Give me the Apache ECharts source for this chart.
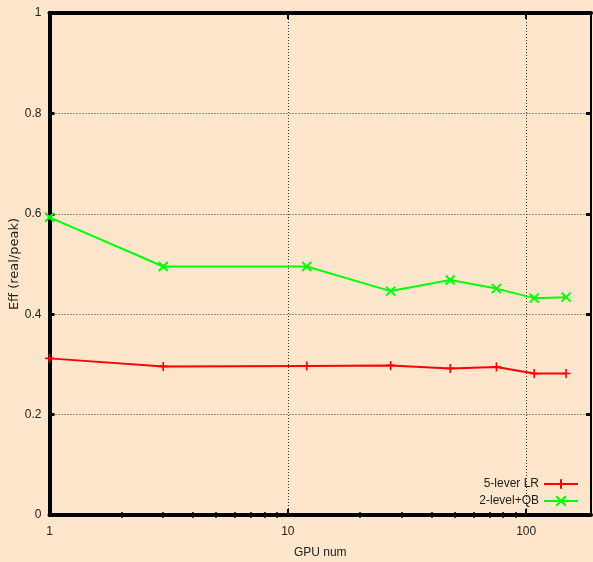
<!DOCTYPE html>
<html>
<head>
<meta charset="utf-8">
<script src="https://cdn.jsdelivr.net/npm/echarts@6/dist/echarts.min.js"></script>
<style>
  html, body { margin: 0; padding: 0; background: #fee6cd; }
  #chart { width: 593px; height: 562px; }
</style>
</head>
<body>
<div id="chart"></div>
<script>
// GPU counts (log-scaled x axis)
const gpuNum = [1, 3, 12, 27, 48, 75, 108, 147];
// Efficiency (real / peak) for each scheme
const effLR = [0.312, 0.296, 0.297, 0.298, 0.292, 0.295, 0.282, 0.282];
const effQB = [0.593, 0.495, 0.495, 0.446, 0.468, 0.451, 0.432, 0.434];
const seriesNames = ['5-lever LR', '2-level+QB'];

// Axis ticks
const xMajor = [1, 10, 100];
const xMinor = [2, 3, 4, 5, 6, 7, 8, 9, 20, 30, 40, 50, 60, 70, 80, 90];
const xMin = 1, xMax = 187;

const font = 'Liberation Sans, Arial, Helvetica, sans-serif';
const dotted = { color: '#333', width: 1, type: [1, 2] };

function pairs(xs, ys) { return xs.map((x, i) => [x, ys[i]]); }

const chart = echarts.init(document.getElementById('chart'), null, { renderer: 'canvas' });

const baseX = {
  type: 'log', logBase: 10, min: xMin, max: xMax,
  axisLine: { show: false },
  axisLabel: { show: false },
  axisTick: { show: false },
  splitLine: { show: false },
  minorTick: { show: false }
};

chart.setOption({
  backgroundColor: '#fee6cd',
  animation: false,
  grid: { left: 49.5, right: 2, top: 13, bottom: 47, containLabel: false, outerBoundsMode: 'none' },
  xAxis: [
    Object.assign({}, baseX, {
      position: 'bottom',
      name: 'GPU num', nameLocation: 'middle', nameGap: 32, nameMoveOverlap: false,
      nameTextStyle: { fontFamily: font, fontSize: 12, color: '#222' },
      axisLine: { show: true, onZero: false, lineStyle: { color: '#000', width: 4 } },
      axisTick: { show: true, inside: true, length: 6, customValues: xMajor, lineStyle: { color: '#000', width: 2 } },
      axisLabel: { show: true, customValues: xMajor, margin: 11, fontFamily: font, fontSize: 12, color: '#222', formatter: v => String(Math.round(v)) },
      splitLine: { show: true, lineStyle: dotted }
    }),
    Object.assign({}, baseX, {
      position: 'bottom',
      axisTick: { show: true, inside: true, length: 3, customValues: xMinor, lineStyle: { color: '#000', width: 1.5 } }
    }),
    Object.assign({}, baseX, {
      position: 'top',
      axisLine: { show: true, onZero: false, lineStyle: { color: '#000', width: 4 } },
      axisTick: { show: true, inside: true, length: 6, customValues: xMajor, lineStyle: { color: '#000', width: 2 } }
    }),
    Object.assign({}, baseX, {
      position: 'top',
      axisTick: { show: true, inside: true, length: 3, customValues: xMinor, lineStyle: { color: '#000', width: 1.5 } }
    })
  ],
  yAxis: [
    {
      type: 'value', min: 0, max: 1, interval: 0.2, position: 'left',
      name: 'Eff (real/peak)', nameLocation: 'middle', nameGap: 28, nameMoveOverlap: false,
      nameTextStyle: { fontFamily: 'DejaVu Sans, sans-serif', fontSize: 13, color: '#222' },
      axisLine: { show: true, onZero: false, lineStyle: { color: '#000', width: 4 } },
      axisTick: { show: true, inside: true, length: 5, lineStyle: { color: '#000', width: 3 } },
      axisLabel: { margin: 8, fontFamily: font, fontSize: 12, color: '#222', formatter: v => String(+v.toFixed(1)) },
      splitLine: { show: true, lineStyle: dotted }
    },
    {
      type: 'value', min: 0, max: 1, interval: 0.2, position: 'right',
      axisLine: { show: true, onZero: false, lineStyle: { color: '#000', width: 2 } },
      axisTick: { show: true, inside: true, length: 5, lineStyle: { color: '#000', width: 3 } },
      axisLabel: { show: false },
      splitLine: { show: false }
    }
  ],
  legend: {
    orient: 'vertical', right: 9, top: 473, align: 'right',
    itemWidth: 34, itemHeight: 12, itemGap: 5,
    textStyle: { fontFamily: font, fontSize: 12, color: '#222' },
    data: seriesNames
  },
  series: [
    {
      name: seriesNames[0], type: 'line', xAxisIndex: 0, yAxisIndex: 0,
      data: pairs(gpuNum, effLR),
      lineStyle: { color: '#ff0000', width: 2 },
      symbol: 'path://M0,4L8,4M4,0L4,8', symbolSize: 9,
      itemStyle: { color: '#ff0000', borderColor: '#ff0000', borderWidth: 1.6 },
      z: 3
    },
    {
      name: seriesNames[1], type: 'line', xAxisIndex: 0, yAxisIndex: 0,
      data: pairs(gpuNum, effQB),
      lineStyle: { color: '#00ff00', width: 2 },
      symbol: 'path://M0,0L8,8M0,8L8,0', symbolSize: 9,
      itemStyle: { color: '#00ff00', borderColor: '#00ff00', borderWidth: 2 },
      z: 3
    }
  ]
});
</script>
</body>
</html>
